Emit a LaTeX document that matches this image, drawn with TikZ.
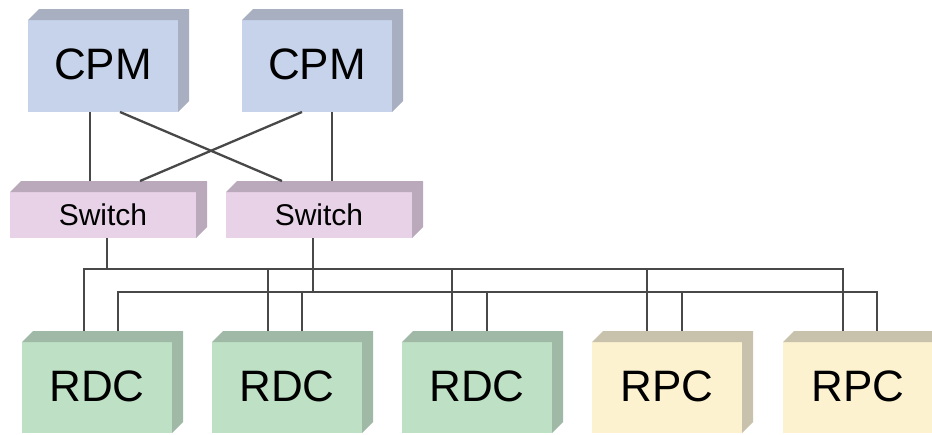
\documentclass[tikz,border=0pt]{standalone}
\usepackage{fontspec}
\setmainfont{Liberation Sans}
\definecolor{cpmF}{HTML}{C7D3EB}
\definecolor{cpmS}{HTML}{A7AFC0}
\definecolor{swF}{HTML}{E8D2E7}
\definecolor{swS}{HTML}{BAA9BA}
\definecolor{rdcF}{HTML}{BEE0C4}
\definecolor{rdcS}{HTML}{A0B9A7}
\definecolor{rpcF}{HTML}{FCF2CF}
\definecolor{rpcS}{HTML}{C8C2AC}
\definecolor{linkC}{HTML}{484848}
\tikzset{
  front/.style={rectangle, inner sep=0pt, outer sep=0pt, fill=#1},
  bigbox/.style={front=#1, minimum width=150pt, minimum height=92pt, font=\fontsize{44}{44}\selectfont},
  swbox/.style={front=swF, minimum width=186pt, minimum height=46pt, font=\fontsize{30}{30}\selectfont},
  link/.style={draw=linkC, line width=2.3pt}
}
\begin{document}
\begin{tikzpicture}[x=1pt,y=-1pt]
\useasboundingbox (0,0) rectangle (932,434);
\clip (0,0) rectangle (932,434);
% nodes (front faces)
\node[bigbox=cpmF] (cpm1) at (103,66) {\raisebox{3pt}{CPM}};
\node[bigbox=cpmF] (cpm2) at (317,66) {\raisebox{3pt}{CPM}};
\node[swbox] (sw1) at (103,215) {\raisebox{1.5pt}{Switch}};
\node[swbox] (sw2) at (319,215) {\raisebox{1.5pt}{Switch}};
\node[bigbox=rdcF, minimum height=91pt] (rdc1) at (97,387.5) {\raisebox{3.5pt}{RDC}};
\node[bigbox=rdcF, minimum height=91pt] (rdc2) at (287,387.5) {\raisebox{3.5pt}{RDC}};
\node[bigbox=rdcF, minimum height=91pt] (rdc3) at (477,387.5) {\raisebox{3.5pt}{RDC}};
\node[bigbox=rpcF, minimum height=91pt] (rpc1) at (667,387.5) {\raisebox{3.5pt}{RPC}};
\node[bigbox=rpcF, minimum height=91pt] (rpc2) at (858,387.5) {\raisebox{3.5pt}{RPC}};
% 3D top and side faces
\foreach \n/\c in {cpm1/cpmS,cpm2/cpmS,sw1/swS,sw2/swS,rdc1/rdcS,rdc2/rdcS,rdc3/rdcS,rpc1/rpcS,rpc2/rpcS}{
  \fill[\c] (\n.north west) -- ([shift={(11pt,11pt)}]\n.north west)
    -- ([shift={(11pt,11pt)}]\n.north east) -- ([shift={(11pt,11pt)}]\n.south east)
    -- (\n.south east) -- (\n.north east) -- cycle;
}
% CPM to switch links
\coordinate (s1top) at ([yshift=11pt]sw1.north);
\coordinate (s2top) at ([yshift=11pt]sw2.north);
\draw[link] ([xshift=-13pt]cpm1.south) -- ([xshift=-13pt]sw1.north |- s1top);
\draw[link] ([xshift=17pt]cpm1.south) -- ([xshift=-37pt]sw2.north |- s2top);
\draw[link] ([xshift=-15pt]cpm2.south) -- ([xshift=37pt]sw1.north |- s1top);
\draw[link] ([xshift=15pt]cpm2.south) -- ([xshift=13pt]sw2.north |- s2top);
% buses
\coordinate (bus1) at (0,269);
\coordinate (bus2) at (0,292);
\draw[link] ([xshift=4pt]sw1.south) coordinate (s1d) -- (s1d |- bus1);
\draw[link] ([xshift=-6pt]sw2.south) coordinate (s2d) -- (s2d |- bus2);
\draw[link] ([xshift=-13pt,yshift=11pt]rdc1.north) coordinate (a1) -- (a1 |- bus1) -| ([xshift=-15pt,yshift=11pt]rpc2.north);
\draw[link] ([xshift=21pt,yshift=11pt]rdc1.north) coordinate (b1) -- (b1 |- bus2) -| ([xshift=19pt,yshift=11pt]rpc2.north);
\draw[link] ([xshift=-19pt,yshift=11pt]rdc2.north) coordinate (a2) -- (a2 |- bus1);
\draw[link] ([xshift=15pt,yshift=11pt]rdc2.north) coordinate (b2) -- (b2 |- bus2);
\draw[link] ([xshift=-25pt,yshift=11pt]rdc3.north) coordinate (a3) -- (a3 |- bus1);
\draw[link] ([xshift=10pt,yshift=11pt]rdc3.north) coordinate (b3) -- (b3 |- bus2);
\draw[link] ([xshift=-20pt,yshift=11pt]rpc1.north) coordinate (a4) -- (a4 |- bus1);
\draw[link] ([xshift=15pt,yshift=11pt]rpc1.north) coordinate (b4) -- (b4 |- bus2);
\end{tikzpicture}
\end{document}
